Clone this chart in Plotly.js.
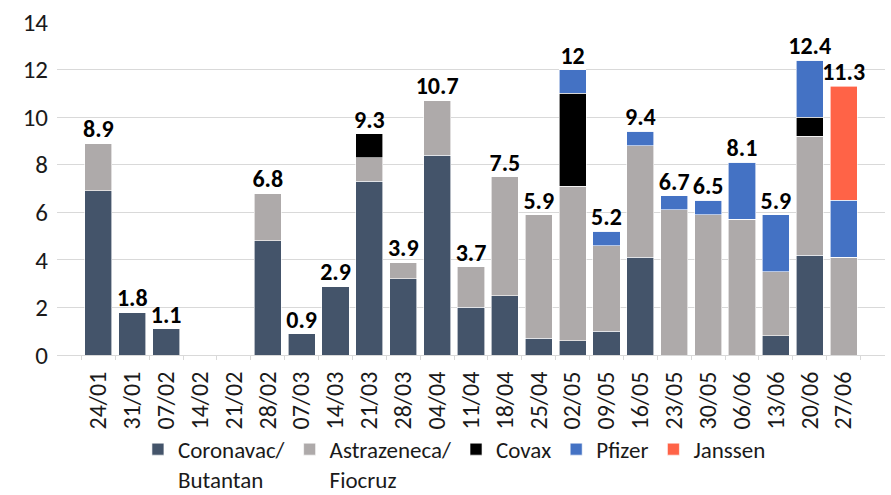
<!DOCTYPE html>
<html>
<head>
<meta charset="utf-8">
<script src="https://cdn.plot.ly/plotly-3.0.1.min.js"></script>
<style>
  body { margin: 0; background: #fff; }
  #chart { width: 891px; height: 495px; }
</style>
</head>
<body>
<div id="chart"></div>
<script>
// semanas
const semanas = ['24/01', '31/01', '07/02', '14/02', '21/02', '28/02', '07/03', '14/03', '21/03', '28/03', '04/04',
  '11/04', '18/04', '25/04', '02/05', '09/05', '16/05', '23/05', '30/05', '06/06', '13/06', '20/06', '27/06'];

// doses por fabricante (milhoes)
const coronavac = [6.9, 1.8, 1.1, 0, 0, 4.8, 0.9, 2.9, 7.3, 3.2, 8.4, 2.0, 2.5, 0.7, 0.6, 1.0, 4.1, 0, 0, 0, 0.8, 4.2, 0];
const astrazeneca = [2.0, 0, 0, 0, 0, 2.0, 0, 0, 1.0, 0.7, 2.3, 1.7, 5.0, 5.2, 6.5, 3.6, 4.7, 6.1, 5.9, 5.7, 2.7, 5.0, 4.1];
const covax = [0, 0, 0, 0, 0, 0, 0, 0, 1.0, 0, 0, 0, 0, 0, 3.9, 0, 0, 0, 0, 0, 0, 0.8, 0];
const pfizer = [0, 0, 0, 0, 0, 0, 0, 0, 0, 0, 0, 0, 0, 0, 1.0, 0.6, 0.6, 0.6, 0.6, 2.4, 2.4, 2.4, 2.4];
const janssen = [0, 0, 0, 0, 0, 0, 0, 0, 0, 0, 0, 0, 0, 0, 0, 0, 0, 0, 0, 0, 0, 0, 4.8];

// rotulos de total
const totais = [8.9, 1.8, 1.1, null, null, 6.8, 0.9, 2.9, 9.3, 3.9, 10.7, 3.7, 7.5, 5.9, 12, 5.2, 9.4, 6.7, 6.5, 8.1, 5.9, 12.4, 11.3];
const rotulos = ['8.9', '1.8', '1.1', '', '', '6.8', '0.9', '2.9', '9.3', '3.9', '10.7', '3.7', '7.5', '5.9', '12', '5.2', '9.4', '6.7', '6.5', '8.1', '5.9', '12.4', '11.3'];

const fonte = 'Carlito, Calibri, "Liberation Sans", Arial, sans-serif';

function serie(nome, valores, cor) {
  return {
    x: semanas,
    y: valores,
    type: 'bar',
    name: nome,
    marker: { color: cor, line: { color: '#ffffff', width: 0.6 } },
    hoverinfo: 'x+y+name'
  };
}

const traces = [
  serie('Coronavac/<br>Butantan', coronavac, '#44546A'),
  serie('Astrazeneca/<br>Fiocruz', astrazeneca, '#AEAAAA'),
  serie('Covax', covax, '#000000'),
  serie('Pfizer', pfizer, '#4472C4'),
  serie('Janssen', janssen, '#FF6347'),
  {
    x: semanas,
    y: totais,
    type: 'scatter',
    mode: 'text',
    text: rotulos,
    textposition: 'top center',
    textfont: { family: fonte, size: 24, color: '#000' },
    texttemplate: '<b>%{text}</b>',
    cliponaxis: false,
    showlegend: false,
    hoverinfo: 'skip'
  }
];

const layout = {
  width: 891,
  height: 495,
  barmode: 'stack',
  bargap: 0.2,
  margin: { l: 57, r: 6, t: 22, b: 140 },
  paper_bgcolor: '#fff',
  plot_bgcolor: '#fff',
  font: { family: fonte, size: 24, color: '#1a1a1a' },
  xaxis: {
    type: 'category',
    tickangle: -90,
    tickfont: { size: 24 },
    automargin: false,
    showline: true,
    linecolor: '#d9d9d9',
    ticks: 'outside',
    tickson: 'boundaries',
    ticklen: 4,
    tickcolor: '#d9d9d9',
    ticklabelstandoff: 6,
    showgrid: false
  },
  yaxis: {
    range: [0, 14],
    dtick: 2,
    tickfont: { size: 25 },
    automargin: false,
    gridcolor: '#d9d9d9',
    zeroline: false,
    ticks: '',
    ticklabelstandoff: 8
  },
  legend: {
    orientation: 'h',
    x: 0.48,
    xanchor: 'center',
    yref: 'container',
    y: 0.136,
    yanchor: 'top',
    valign: 'top',
    bgcolor: 'rgba(0,0,0,0)',
    font: { size: 23 },
    itemwidth: 30,
    tracegroupgap: 0,
    traceorder: 'normal'
  },
  showlegend: true
};

Plotly.newPlot('chart', traces, layout, { displayModeBar: false });
</script>
</body>
</html>
